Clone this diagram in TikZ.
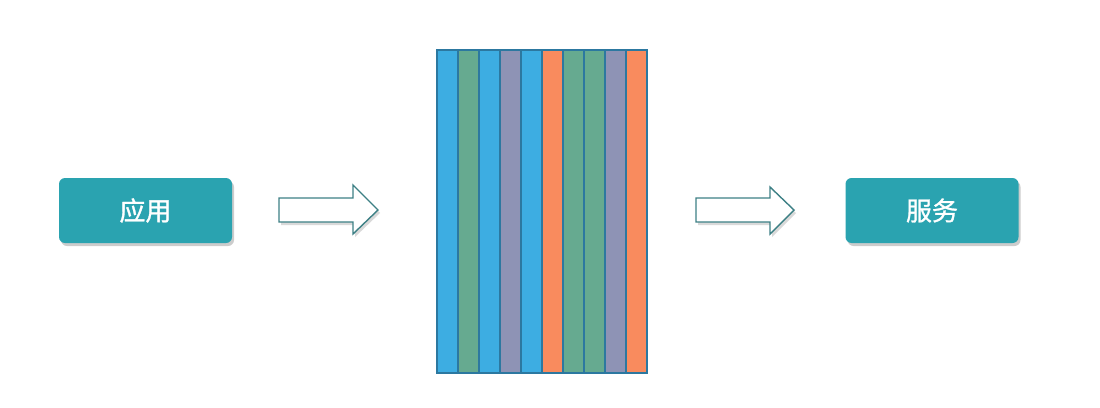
\documentclass[tikz,border=0pt]{standalone}
\usepackage{fontspec}
\newfontfamily\cjk[FakeBold=1.2]{Noto Sans CJK SC}
\usetikzlibrary{shadows}
\definecolor{boxteal}{HTML}{2AA3B0}
\definecolor{arrowline}{HTML}{3D8085}
\definecolor{barblue}{HTML}{3DADE2}
\definecolor{bargreen}{HTML}{66AA90}
\definecolor{barpurple}{HTML}{8E93B5}
\definecolor{barorange}{HTML}{F98B5E}
\definecolor{baredge}{HTML}{2C78A0}
\tikzset{
  x=1pt, y=-1pt,
  tealbox/.style={fill=boxteal, rounded corners=6pt, minimum width=173pt, minimum height=65pt,
    text=white, font=\cjk\fontsize{26}{30}\selectfont, inner sep=0pt,
    drop shadow={shadow xshift=2pt, shadow yshift=-3pt, opacity=0.2, fill=black}},
  hollowarrow/.style={draw=arrowline, line width=1.4pt, fill=white,
    drop shadow={shadow xshift=2pt, shadow yshift=-3pt, opacity=0.15, fill=black}},
  bar/.style={draw=baredge, line width=1.5pt, minimum width=21pt, minimum height=323pt, inner sep=0pt}
}
\begin{document}
\begin{tikzpicture}
\useasboundingbox (0,0) rectangle (1100,407);
\node[tealbox] (app) at (145.5,210.5) {应用};
\node[tealbox] (svc) at (932,210.5) {服务};
\foreach \c [count=\i from 0] in {barblue,bargreen,barblue,barpurple,barblue,barorange,bargreen,bargreen,barpurple,barorange}{
  \node[bar, fill=\c, anchor=north west] (b\i) at (436+21*\i,49) {};
}
\path[hollowarrow] (279,198) -- (353,198) -- (353,185) -- (378,210) -- (353,234) -- (353,222) -- (279,222) -- cycle;
\path[hollowarrow] (696,198) -- (770,198) -- (770,187) -- (794,210) -- (770,234) -- (770,222) -- (696,222) -- cycle;
\end{tikzpicture}
\end{document}
